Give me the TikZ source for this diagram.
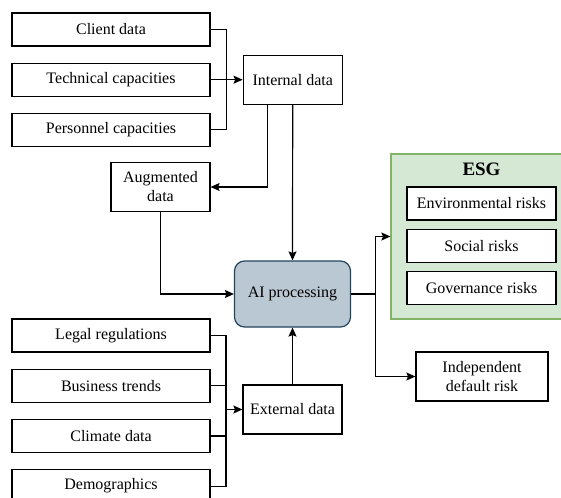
\documentclass[tikz,border=0pt]{standalone}
\usepackage{fontspec}
\setmainfont{Liberation Serif}
\usepackage{tikz}
\usetikzlibrary{arrows.meta}
\usetikzlibrary{positioning}
\usetikzlibrary{calc}
\definecolor{aifill}{HTML}{BAC8D3}
\definecolor{aidraw}{HTML}{23445D}
\definecolor{esgfill}{HTML}{D5E8D4}
\definecolor{esgdraw}{HTML}{82B366}
\newcommand{\boxfont}{\rmfamily\fontsize{16}{19}\selectfont}
\tikzset{node distance=16pt, % Gap between stacked source boxes
    >={Stealth[length=9pt, width=8pt, inset=1.5pt]}, % Filled arrow heads on every connector
    every path/.style={line width=1.2pt}}

\begin{document}
\begin{tikzpicture}[x=1pt, y=-1pt]

        \useasboundingbox (0,0) rectangle (561,497);

        % Define style
        \tikzstyle{databox} = [rectangle, draw, minimum width=198pt, minimum height=33pt, font=\boxfont]
        \tikzstyle{midbox} = [rectangle, draw, minimum width=99pt, minimum height=49pt, align=center, font=\boxfont]
        \tikzstyle{riskbox} = [rectangle, draw, fill=white, minimum width=149pt, minimum height=33pt, font=\boxfont]
        \tikzstyle{aibox} = [rectangle, draw=aidraw, fill=aifill, rounded corners=10pt, minimum width=116pt, minimum height=66pt, font=\boxfont]

        % Internal sources (top to bottom)
        \node[databox] (client) at (111,29.5) {Client data};
        \node[databox, below=of client] (tech) {Technical capacities};
        \node[databox, below=of tech] (personnel) {Personnel capacities};

        % External sources (top to bottom)
        \node[databox] (legal) at (111,335.5) {Legal regulations};
        \node[databox, below=of legal] (trends) {Business trends};
        \node[databox, below=of trends] (climate) {Climate data};
        \node[databox, below=of climate] (demo) {Demographics};

        % Middle column
        \node[midbox, right=32pt of tech] (internal) {Internal data};
        \node[midbox] (augmented) at (160.5,187) {Augmented\\data};
        \node[aibox] (ai) at (292.5,294) {AI processing};
        \node[midbox] (external) at (292.5,409.5) {External data};

        % ESG group
        \node[draw=esgdraw, fill=esgfill, minimum width=177pt, minimum height=165pt] (esg) at (479.5,236.5) {};
        \node[font=\rmfamily\fontsize{19}{21}\selectfont\bfseries] (esgtitle) at (481.5,169) {ESG};
        \node[riskbox] (env) at (481.5,203.5) {Environmental risks};
        \node[riskbox, below=8pt of env] (social) {Social risks};
        \node[riskbox, below=8pt of social] (gov) {Governance risks};
        \node[midbox, minimum width=132pt] (indep) at (482,376.5) {Independent\\default risk};

        % Internal data links
        \coordinate (injoin) at ($(tech.east)!0.5!(internal.west)$);
        \draw (client.east) -| (injoin) |- (personnel.east);
        \draw[->] (tech.east) -- (internal.west);
        \draw[->] ([xshift=-25pt]internal.south) |- (augmented.east);
        \draw[->] (internal.south) -- (ai.north);
        \draw[->] (augmented.south) |- (ai.west);

        % External data links
        \coordinate (exjoin) at ([xshift=-16.5pt]external.west);
        \draw (legal.east) -| (exjoin) |- (demo.east);
        \draw (trends.east) -- (trends.east -| exjoin);
        \draw (climate.east) -- (climate.east -| exjoin);
        \draw[->] (exjoin) -- (external.west);
        \draw[->] (external.north) -- (ai.south);

        % Outputs
        \coordinate (outjoin) at ([xshift=24pt]ai.east);
        \draw (ai.east) -- (outjoin);
        \draw[->] (outjoin) |- (esg.west);
        \draw[->] (outjoin) |- (indep.west);

    \end{tikzpicture}
\end{document}
